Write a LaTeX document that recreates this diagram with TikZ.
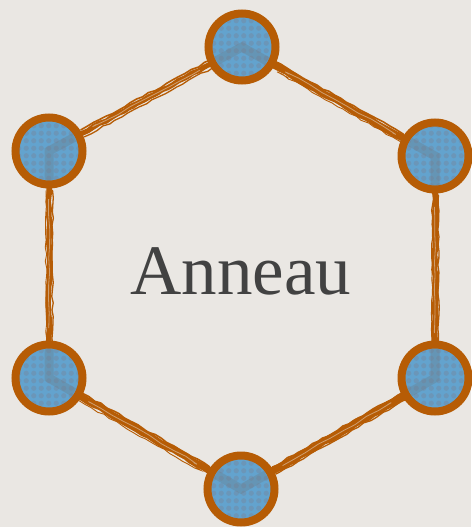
\documentclass[tikz,border=0pt]{standalone}
\usepackage{fontspec}
\setmainfont{Liberation Serif}
\usetikzlibrary{patterns,decorations.pathmorphing}
\definecolor{bg}{HTML}{EAE7E3}
\definecolor{rust}{HTML}{B65C05}
\definecolor{ringblue}{HTML}{63A3CE}
\definecolor{dotblue}{HTML}{3A73A0}
\definecolor{txt}{HTML}{424242}
\pgfdeclarepatternformonly{bigdots}{\pgfqpoint{-1pt}{-1pt}}{\pgfqpoint{8pt}{8pt}}{\pgfqpoint{7.5pt}{7.5pt}}{%
  \pgfpathcircle{\pgfqpoint{3.75pt}{3.75pt}}{2.6pt}\pgfusepath{fill}}
\tikzset{
  ringnode/.style={circle, minimum size=67pt, inner sep=0pt, draw=rust, line width=8pt,
    preaction={fill=ringblue}, preaction={pattern=bigdots, pattern color=dotblue!75}},
  brush/.style={draw=rust, line cap=round, decorate,
    decoration={random steps, segment length=7pt, amplitude=0.9pt}},
  ghost/.style={draw=gray!70!dotblue, opacity=0.35, line width=9pt}
}
\begin{document}
\begin{tikzpicture}[x=1pt,y=-1pt]
\fill[bg] (0,0) rectangle (471,527);
\useasboundingbox (0,0) rectangle (471,527);
\coordinate (pt) at (242,47);
\coordinate (pur) at (435,156);
\coordinate (plr) at (435,378);
\coordinate (pb) at (241,489);
\coordinate (pll) at (49,378);
\coordinate (pul) at (49,151);
\foreach \n in {t,ur,lr,b,ll,ul}{
  \node[circle, minimum size=72pt, inner sep=0pt] (e\n) at (p\n) {};
}
\foreach \a/\b/\w in {t/ur/7, ur/lr/6, lr/b/7.5, b/ll/7, ll/ul/5.5, ul/t/5}{
  \draw[brush, line width=\w pt] (e\a) -- (e\b);
  \draw[brush, line width=1.6pt, transform canvas={shift={(0pt,4pt)}}] (e\a) -- (e\b);
  \draw[brush, line width=1.3pt, transform canvas={shift={(3.5pt,-3pt)}}] (e\a) -- (e\b);
  \draw[brush, line width=0.9pt, transform canvas={shift={(-3pt,-3.5pt)}}, shorten <=20pt] (e\a) -- (e\b);
  \draw[draw=bg!60!rust, line width=0.8pt, opacity=0.8, decorate,
    decoration={random steps, segment length=14pt, amplitude=0.8pt},
    shorten >=12pt, shorten <=18pt] (e\a) -- (e\b);
}
\node[ringnode] (t) at (pt) {};
\node[ringnode] (ur) at (pur) {};
\node[ringnode] (lr) at (plr) {};
\node[ringnode] (b) at (pb) {};
\node[ringnode] (ll) at (pll) {};
\node[ringnode] (ul) at (pul) {};
\begin{scope}
\clip (pt) circle (29) (pur) circle (29) (plr) circle (29) (pb) circle (29) (pll) circle (29) (pul) circle (29);
\draw[ghost] (t.center) -- (ur.center) -- (lr.center) -- (b.center) -- (ll.center) -- (ul.center) -- cycle;
\end{scope}
\node[font=\fontsize{71}{75}\selectfont, text=txt] (label) at (241,271) {Anneau};
\end{tikzpicture}
\end{document}
